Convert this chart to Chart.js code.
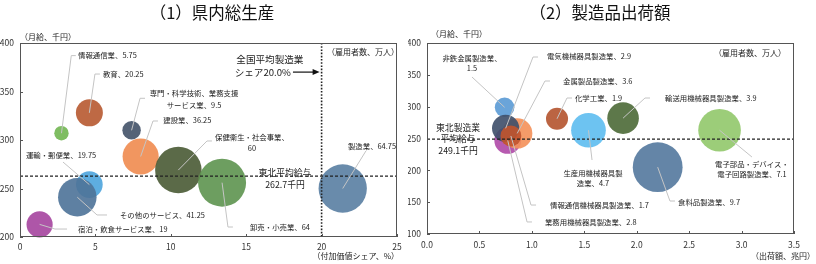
<!DOCTYPE html>
<html lang="ja">
<head>
<meta charset="utf-8">
<script src="https://cdn.jsdelivr.net/npm/chart.js@4.4.1/dist/chart.umd.min.js"></script>
<style>
  body { margin: 0; background: #fff; font-family: "Noto Sans CJK JP", sans-serif; }
  #wrap { position: relative; width: 816px; height: 264px; overflow: hidden; }
  .box { position: absolute; top: 0; width: 408px; height: 264px; }
  .ttl { position: absolute; top: 1px; width: 408px; text-align: center; font-size: 16.5px; line-height: 22px; color: #111; }
</style>
</head>
<body>
<div id="wrap">
  <div class="box" style="left:0"><canvas id="c1" width="408" height="264"></canvas></div>
  <div class="box" style="left:408px"><canvas id="c2" width="408" height="264"></canvas></div>
  <div class="ttl" style="left:8px">（1）県内総生産</div>
  <div class="ttl" style="left:396px">（2）製造品出荷額</div>
</div>
<script>
// (1) 県内総生産 : x = 付加価値シェア(%), y = 月給(千円), size = 雇用者数(万人)
const gdpNames = ['情報通信業', '教育', '専門・科学技術、業務支援サービス業', '建設業', '運輸・郵便業',
    'その他のサービス', '宿泊・飲食サービス業', '保健衛生・社会事業', '卸売・小売業', '製造業'];
const gdpShare = [2.75, 4.6, 7.4, 8.0, 4.6, 3.8, 1.3, 10.5, 13.4, 21.4];
const gdpWage = [307, 328, 310, 283, 254, 241, 213, 269, 256, 250];
const gdpEmployees = [5.75, 20.25, 9.5, 36.25, 19.75, 41.25, 19, 60, 64, 64.75];
const gdpAvgWage = 262.7;
const nationalMfgShare = 20.0;
const gdpXTicks = [0, 5, 10, 15, 20, 25];
const gdpYTicks = [200, 250, 300, 350, 400];

// (2) 製造品出荷額 : x = 出荷額(兆円), y = 月給(千円), size = 雇用者数(万人)
const mfgNames = ['非鉄金属製造業', '業務用機械器具製造業', '金属製品製造業', '電気機械器具製造業',
    '情報通信機械器具製造業', '化学工業', '生産用機械器具製造業', '輸送用機械器具製造業',
    '食料品製造業', '電子部品・デバイス・電子回路製造業'];
const mfgShipments = [0.74, 0.77, 0.86, 0.75, 0.80, 1.24, 1.54, 1.87, 2.20, 2.79];
const mfgWage = [299, 247, 258, 266, 254, 281, 263, 282, 205, 263];
const mfgEmployees = [1.5, 2.8, 3.6, 2.9, 1.7, 1.9, 4.7, 3.9, 9.7, 7.1];
const mfgAvgWage = 249.1;
const mfgXTicks = [0, 0.5, 1, 1.5, 2, 2.5, 3, 3.5];
const mfgYTicks = [100, 150, 200, 250, 300, 350, 400];

// styles
const gdpColors = ['#72b752', '#b85a32', '#44546a', '#f08c50', '#4ea5dd',
    '#4e7399', '#a6459f', '#4b5b36', '#5f9450', '#5a7fa3'];
const mfgColors = ['#5b9bd5', '#b04aa8', '#f4915a', '#3f4f6b', '#c0552e',
    '#b4552f', '#5fbdf0', '#4d6b38', '#55799e', '#92c86c'];

// label layout (data coords): leader points after bubble centre, text anchor
const gdpLabels = [
    { i: 0, pts: [[3.4, 387], [3.7, 387]], at: [3.85, 387], align: 'left' },
    { i: 1, pts: [[4.97, 368], [5.3, 368]], at: [5.5, 368], align: 'left' },
    { i: 2, pts: [[7.96, 343], [8.29, 343]], at: [8.6, 342.3], align: 'left', brk: 12 },
    { i: 3, pts: [[8.82, 319.6], [9.15, 319.6]], at: [9.5, 320], align: 'left' },
    { i: 4, pts: [[2.85, 277.3]], at: [2.72, 284.5], align: 'center' },
    { i: 5, pts: [[5.11, 222.7], [5.77, 222.7]], at: [6.63, 222.7], align: 'left' },
    { i: 6, pts: [[2.32, 208.2], [3.12, 208.2]], at: [3.85, 208.2], align: 'left' },
    { i: 7, pts: [[12.4, 299], [12.73, 299]], at: [12.93, 297], align: 'left', brk: 10 },
    { i: 8, pts: [[13.79, 210.3], [14.12, 210.3]], at: [15.25, 210.3], align: 'left' },
    { i: 9, pts: [[22.94, 288.7]], at: [23.34, 293.8], align: 'center' }
];
const mfgLabels = [
    { i: 0, pts: [[0.429, 346.6]], at: [0.429, 368.6], align: 'center', brk: 8 },
    { i: 1, pts: [[0.954, 118.9], [1.001, 118.9]], at: [1.125, 118.9], align: 'left' },
    { i: 2, pts: [[1.125, 340.3], [1.173, 340.3]], at: [1.297, 340.3], align: 'left' },
    { i: 3, pts: [[1.011, 378], [1.059, 378]], at: [1.144, 379], align: 'left' },
    { i: 4, pts: [[0.992, 145.5], [1.04, 145.5]], at: [1.173, 145.5], align: 'left' },
    { i: 5, pts: [[1.335, 313.6], [1.383, 313.6]], at: [1.411, 313.6], align: 'left' },
    { i: 6, pts: [[1.574, 216.2]], at: [1.583, 188], align: 'center', brk: 8 },
    { i: 7, pts: [[2.079, 313.6], [2.127, 313.6]], at: [2.27, 313.6], align: 'left' },
    { i: 8, pts: [[2.317, 151.8], [2.365, 151.8]], at: [2.394, 150.2], align: 'left' },
    { i: 9, pts: [[3.099, 220.9]], at: [3.099, 202.1], align: 'center', brk: 10 }
];

const FONT = '"Noto Sans CJK JP", sans-serif';

function drawBlock(ctx, lines, x, y, align, lh) {
    const w = Math.max(...lines.map(t => ctx.measureText(t).width));
    const cx = align === 'left' ? x + w / 2 : (align === 'right' ? x - w / 2 : x);
    const y0 = y - (lines.length - 1) * lh / 2;
    ctx.textAlign = 'center';
    lines.forEach((t, k) => ctx.fillText(t, cx, y0 + k * lh));
}

// draws frame, inward ticks, reference lines, leaders and texts
function makeNotes(cfg) {
    return {
        id: 'notes',
        afterDatasetsDraw(chart) {
            const ctx = chart.ctx, a = chart.chartArea;
            const sx = chart.scales.x, sy = chart.scales.y;
            const px = v => sx.getPixelForValue(v), py = v => sy.getPixelForValue(v);
            const pts = chart.data.datasets[0].data;
            ctx.save();

            // reference lines
            ctx.strokeStyle = '#222';
            if (cfg.hLine != null) {
                ctx.setLineDash([3, 2]);
                ctx.lineWidth = 1.3;
                ctx.beginPath();
                ctx.moveTo(a.left, py(cfg.hLine));
                ctx.lineTo(a.right, py(cfg.hLine));
                ctx.stroke();
            }
            if (cfg.vLine != null) {
                ctx.setLineDash([1.6, 1.6]);
                ctx.lineWidth = 1.6;
                ctx.beginPath();
                ctx.moveTo(px(cfg.vLine), a.top);
                ctx.lineTo(px(cfg.vLine), a.bottom);
                ctx.stroke();
            }
            ctx.setLineDash([]);

            // frame + ticks
            ctx.strokeStyle = '#555';
            ctx.lineWidth = 1;
            ctx.strokeRect(a.left + 0.5, a.top + 0.5, a.right - a.left - 1, a.bottom - a.top - 1);
            ctx.beginPath();
            sx.ticks.forEach((t, k) => {
                const x = Math.round(sx.getPixelForTick(k)) + 0.5;
                ctx.moveTo(x, a.bottom);
                ctx.lineTo(x, a.bottom - 3);
            });
            sy.ticks.forEach((t, k) => {
                const y = Math.round(sy.getPixelForTick(k)) + 0.5;
                ctx.moveTo(a.left, y);
                ctx.lineTo(a.left + 3, y);
            });
            ctx.stroke();

            // leader lines
            ctx.strokeStyle = '#c4c4c4';
            ctx.lineWidth = 1;
            cfg.labels.forEach(l => {
                const d = pts[l.i];
                ctx.beginPath();
                ctx.moveTo(px(d.x), py(d.y));
                l.pts.forEach(p => ctx.lineTo(px(p[0]), py(p[1])));
                ctx.stroke();
            });

            // arrow
            if (cfg.arrow) {
                const x0 = px(cfg.arrow.from[0]), x1 = px(cfg.arrow.to[0]) - 2, y = py(cfg.arrow.from[1]);
                ctx.strokeStyle = '#111';
                ctx.lineWidth = 1.2;
                ctx.beginPath();
                ctx.moveTo(x0, y);
                ctx.lineTo(x1 - 5, y);
                ctx.stroke();
                ctx.fillStyle = '#111';
                ctx.beginPath();
                ctx.moveTo(x1, y);
                ctx.lineTo(x1 - 7, y - 3);
                ctx.lineTo(x1 - 7, y + 3);
                ctx.closePath();
                ctx.fill();
            }

            // bubble labels
            ctx.fillStyle = '#222';
            ctx.font = '7.4px ' + FONT;
            ctx.textBaseline = 'middle';
            cfg.labels.forEach(l => {
                const d = pts[l.i];
                const txt = d.name + '、' + d.emp;
                const lines = l.brk ? [txt.slice(0, l.brk), txt.slice(l.brk)] : [txt];
                drawBlock(ctx, lines, px(l.at[0]), py(l.at[1]), l.align, cfg.lh);
            });

            // reference texts (data coords)
            cfg.refTexts.forEach(r => {
                ctx.font = r.size + 'px ' + FONT;
                drawBlock(ctx, r.lines, px(r.at[0]), py(r.at[1]) + (r.dy || 0), r.align, r.lh);
            });

            // axis / unit texts (pixel offsets from plot corners)
            ctx.font = '8px ' + FONT;
            cfg.axisTexts.forEach(r => {
                const x = r.corner[1] === 'l' ? a.left + r.dx : a.right + r.dx;
                const y = r.corner[0] === 't' ? a.top + r.dy : a.bottom + r.dy;
                ctx.textAlign = r.align;
                ctx.fillText(r.text, x, y);
            });
            ctx.restore();
        }
    };
}

function bubbleChart(id, xs, ys, sizes, names, colors, k, xTicks, yTicks, fmt, layout, notes) {
    const data = xs.map((v, i) => ({ x: v, y: ys[i], r: k * Math.sqrt(sizes[i]), name: names[i], emp: sizes[i] }));
    const tickFont = { family: FONT, size: 8.5 };
    return new Chart(document.getElementById(id), {
        type: 'bubble',
        data: {
            datasets: [{
                data: data,
                backgroundColor: colors.map(c => c + 'e8'),
                borderWidth: 0,
                clip: false
            }]
        },
        options: {
            responsive: false,
            animation: false,
            layout: { padding: layout.pad, autoPadding: false },
            plugins: { legend: { display: false }, tooltip: { enabled: false } },
            scales: {
                x: {
                    type: 'linear',
                    min: xTicks[0],
                    max: xTicks[xTicks.length - 1],
                    afterBuildTicks: s => { s.ticks = xTicks.map(v => ({ value: v })); },
                    afterFit: s => { s.height = layout.xh; s.paddingLeft = 0; s.paddingRight = 0; },
                    grid: { display: false, drawTicks: false, tickLength: 0 },
                    border: { display: false },
                    ticks: { font: tickFont, color: '#333', padding: layout.xpad, maxRotation: 0, callback: fmt }
                },
                y: {
                    type: 'linear',
                    min: yTicks[0],
                    max: yTicks[yTicks.length - 1],
                    afterBuildTicks: s => { s.ticks = yTicks.map(v => ({ value: v })); },
                    afterFit: s => { s.width = layout.yw; s.paddingTop = 0; s.paddingBottom = 0; },
                    grid: { display: false, drawTicks: false, tickLength: 0 },
                    border: { display: false },
                    ticks: { font: tickFont, color: '#333', padding: 6 }
                }
            }
        },
        plugins: [makeNotes(notes)]
    });
}

bubbleChart('c1', gdpShare, gdpWage, gdpEmployees, gdpNames, gdpColors, 3, gdpXTicks, gdpYTicks,
    v => String(v),
    { pad: { top: 43, right: 11, left: 0, bottom: 0 }, xh: 27, yw: 20, xpad: 5 },
    {
        labels: gdpLabels,
        lh: 11.5,
        hLine: gdpAvgWage,
        vLine: nationalMfgShare,
        arrow: { from: [18.1, 370], to: [nationalMfgShare, 370] },
        refTexts: [
            { lines: ['東北平均給与', gdpAvgWage.toFixed(1) + '千円'], at: [17.57, gdpAvgWage], dy: 2, align: 'center', lh: 12, size: 8.8 },
            { lines: ['全国平均製造業'], at: [16.57, 383.5], align: 'center', lh: 12, size: 9.6 },
            { lines: ['シェア' + nationalMfgShare.toFixed(1) + '%'], at: [16.1, 370], align: 'center', lh: 12, size: 9.6 }
        ],
        axisTexts: [
            { text: '（月給、千円）', corner: 'tl', dx: 0, dy: -6, align: 'left' },
            { text: '（付加価値シェア、%）', corner: 'br', dx: 2, dy: 19, align: 'right' },
            { text: '（雇用者数、万人）', corner: 'tr', dx: 2, dy: 9, align: 'right' }
        ]
    });

bubbleChart('c2', mfgShipments, mfgWage, mfgEmployees, mfgNames, mfgColors, 8, mfgXTicks, mfgYTicks,
    v => v.toFixed(1),
    { pad: { top: 43, right: 22, left: 0, bottom: 0 }, xh: 30, yw: 19, xpad: 6 },
    {
        labels: mfgLabels,
        lh: 10.5,
        hLine: mfgAvgWage,
        vLine: null,
        arrow: null,
        refTexts: [
            { lines: ['東北製造業', '平均給与', mfgAvgWage.toFixed(1) + '千円'], at: [0.296, mfgAvgWage], dy: 0, align: 'center', lh: 11.5, size: 8.8 }
        ],
        axisTexts: [
            { text: '（月給、千円）', corner: 'tl', dx: 4, dy: -9, align: 'left' },
            { text: '（出荷額、兆円）', corner: 'br', dx: 21, dy: 22, align: 'right' },
            { text: '（雇用者数、万人）', corner: 'tr', dx: -8, dy: 10, align: 'right' }
        ]
    });
</script>
</body>
</html>
